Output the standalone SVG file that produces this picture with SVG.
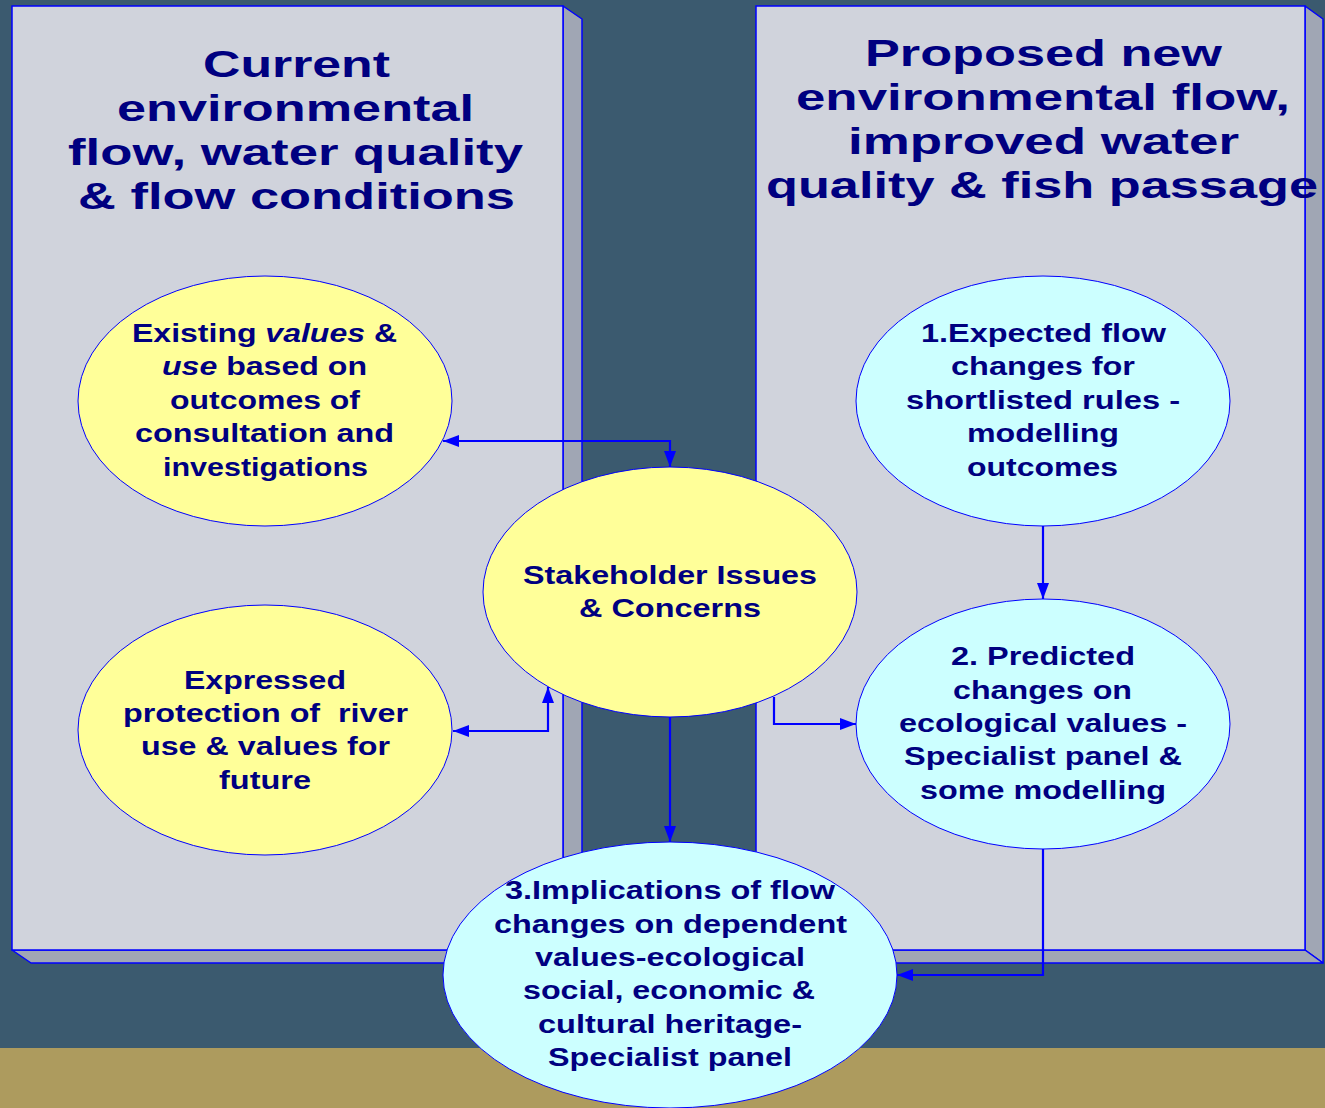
<svg xmlns="http://www.w3.org/2000/svg" width="1325" height="1108" viewBox="0 0 1325 1108">
<style>
.face{fill:#D0D3DC;stroke:#0000FF;stroke-width:1.5}
.side{fill:#A0A6B4;stroke:#0000FF;stroke-width:1.5;stroke-linejoin:round}
.yel{fill:#FFFF99;stroke:#0000FF;stroke-width:1}
.cyan{fill:#CCFFFF;stroke:#0000FF;stroke-width:1}
text{font-family:"Liberation Sans",Arial,sans-serif;font-weight:bold;fill:#000080}
.t{font-size:37px}
.b{font-size:25px}
.con path{fill:none;stroke:#0000FF;stroke-width:2.2}
</style>
<defs>
<marker id="ah" markerUnits="userSpaceOnUse" markerWidth="16" markerHeight="12" refX="16" refY="6" orient="auto-start-reverse">
<path d="M0,0 L16,6 L0,12 z" fill="#0000FF"/>
</marker>
</defs>
<rect x="0" y="0" width="1325" height="1108" fill="#3B5A6F"/>
<rect x="0" y="1048" width="1325" height="60" fill="#AD9B5E"/>

<g id="box-current">
<polygon class="side" points="563,6 582,19 582,963 563,950"/>
<polygon class="side" points="12,950 563,950 582,963 31,963"/>
<rect class="face" x="12" y="6" width="551" height="944"/>
<text class="t" x="203" y="77" textLength="187" lengthAdjust="spacingAndGlyphs">Current</text>
<text class="t" x="117" y="121" textLength="357" lengthAdjust="spacingAndGlyphs">environmental</text>
<text class="t" x="68" y="165" textLength="455" lengthAdjust="spacingAndGlyphs">flow, water quality</text>
<text class="t" x="78" y="209" textLength="437" lengthAdjust="spacingAndGlyphs">&amp; flow conditions</text>
</g>

<g id="box-proposed">
<polygon class="side" points="1305,6 1323,19 1323,963 1305,950"/>
<polygon class="side" points="756,950 1305,950 1323,963 775,963"/>
<rect class="face" x="756" y="6" width="549" height="944"/>
<text class="t" x="865" y="66" textLength="357" lengthAdjust="spacingAndGlyphs">Proposed new</text>
<text class="t" x="796" y="110" textLength="494" lengthAdjust="spacingAndGlyphs">environmental flow,</text>
<text class="t" x="848" y="154" textLength="391" lengthAdjust="spacingAndGlyphs">improved water</text>
<text class="t" x="766" y="198" textLength="552" lengthAdjust="spacingAndGlyphs">quality &amp; fish passage</text>
</g>

<g id="node-existing">
<ellipse class="yel" cx="265" cy="401" rx="187" ry="125"/>
<text class="b" x="132" y="342" textLength="265" lengthAdjust="spacingAndGlyphs">Existing <tspan font-style="italic">values</tspan> &amp;</text>
<text class="b" x="162" y="375" textLength="205" lengthAdjust="spacingAndGlyphs"><tspan font-style="italic">use</tspan> based on</text>
<text class="b" x="170" y="409" textLength="190" lengthAdjust="spacingAndGlyphs">outcomes of</text>
<text class="b" x="135" y="442" textLength="259" lengthAdjust="spacingAndGlyphs">consultation and</text>
<text class="b" x="163" y="476" textLength="205" lengthAdjust="spacingAndGlyphs">investigations</text>
</g>

<g id="node-expressed">
<ellipse class="yel" cx="265" cy="730" rx="187" ry="125"/>
<text class="b" x="184" y="689" textLength="162" lengthAdjust="spacingAndGlyphs">Expressed</text>
<text class="b" x="123" y="722" textLength="285" lengthAdjust="spacingAndGlyphs" xml:space="preserve">protection of  river</text>
<text class="b" x="141" y="755" textLength="249" lengthAdjust="spacingAndGlyphs">use &amp; values for</text>
<text class="b" x="219" y="789" textLength="92" lengthAdjust="spacingAndGlyphs">future</text>
</g>

<g id="node-stakeholder">
<ellipse class="yel" cx="670" cy="592" rx="187" ry="125"/>
<text class="b" x="523" y="584" textLength="294" lengthAdjust="spacingAndGlyphs">Stakeholder Issues</text>
<text class="b" x="579" y="617" textLength="182" lengthAdjust="spacingAndGlyphs">&amp; Concerns</text>
</g>

<g id="node-expected">
<ellipse class="cyan" cx="1043" cy="401" rx="187" ry="125"/>
<text class="b" x="921" y="342" textLength="245" lengthAdjust="spacingAndGlyphs">1.Expected flow</text>
<text class="b" x="951" y="375" textLength="184" lengthAdjust="spacingAndGlyphs">changes for</text>
<text class="b" x="906" y="409" textLength="274" lengthAdjust="spacingAndGlyphs">shortlisted rules -</text>
<text class="b" x="967" y="442" textLength="152" lengthAdjust="spacingAndGlyphs">modelling</text>
<text class="b" x="967" y="476" textLength="151" lengthAdjust="spacingAndGlyphs">outcomes</text>
</g>

<g id="node-predicted">
<ellipse class="cyan" cx="1043" cy="724" rx="187" ry="125"/>
<text class="b" x="951" y="665" textLength="184" lengthAdjust="spacingAndGlyphs">2. Predicted</text>
<text class="b" x="953" y="699" textLength="179" lengthAdjust="spacingAndGlyphs">changes on</text>
<text class="b" x="899" y="732" textLength="288" lengthAdjust="spacingAndGlyphs">ecological values -</text>
<text class="b" x="904" y="765" textLength="278" lengthAdjust="spacingAndGlyphs">Specialist panel &amp;</text>
<text class="b" x="920" y="799" textLength="246" lengthAdjust="spacingAndGlyphs">some modelling</text>
</g>

<g id="node-implications">
<ellipse class="cyan" cx="670" cy="975" rx="227" ry="133"/>
<text class="b" x="505" y="899" textLength="330" lengthAdjust="spacingAndGlyphs">3.Implications of flow</text>
<text class="b" x="494" y="933" textLength="353" lengthAdjust="spacingAndGlyphs">changes on dependent</text>
<text class="b" x="535" y="966" textLength="270" lengthAdjust="spacingAndGlyphs">values-ecological</text>
<text class="b" x="523" y="999" textLength="292" lengthAdjust="spacingAndGlyphs">social, economic &amp;</text>
<text class="b" x="538" y="1033" textLength="264" lengthAdjust="spacingAndGlyphs">cultural heritage-</text>
<text class="b" x="548" y="1066" textLength="244" lengthAdjust="spacingAndGlyphs">Specialist panel</text>
</g>

<g id="connectors" class="con">
<path d="M443,441 H670 V467" marker-start="url(#ah)" marker-end="url(#ah)"/>
<path d="M453,731 H548 V687" marker-start="url(#ah)" marker-end="url(#ah)"/>
<path d="M670,717 V842" marker-end="url(#ah)"/>
<path d="M774,697 V724 H856" marker-end="url(#ah)"/>
<path d="M1043,526 V599" marker-end="url(#ah)"/>
<path d="M1043,849 V975 H897" marker-end="url(#ah)"/>
</g>
</svg>
